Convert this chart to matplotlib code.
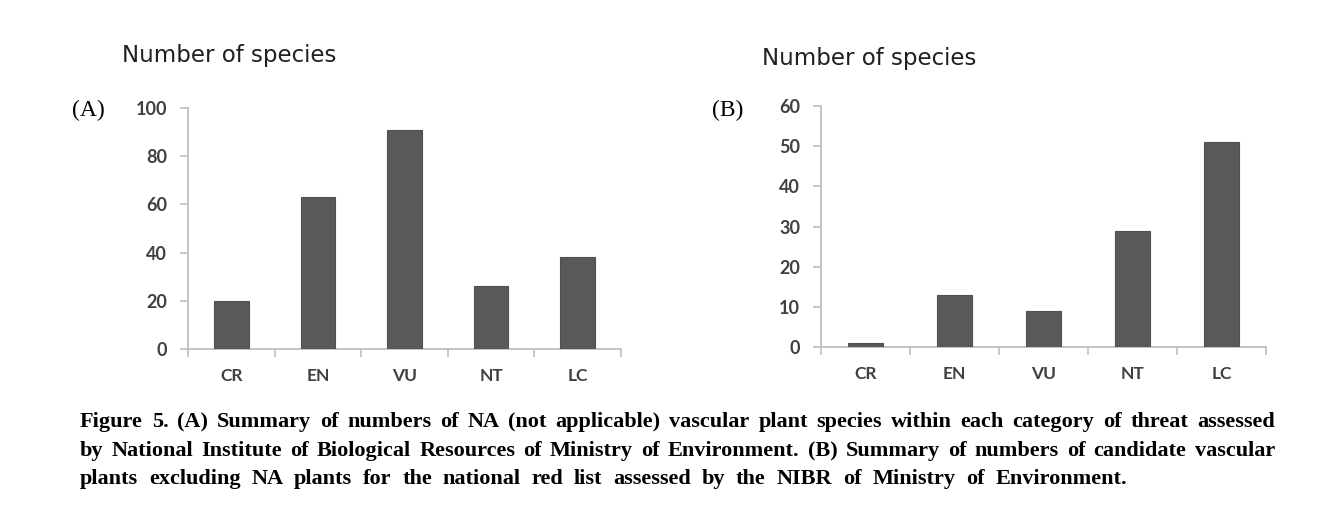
import matplotlib
matplotlib.use('Agg')
import matplotlib.pyplot as plt

# ---- data ----
categories = ['CR', 'EN', 'VU', 'NT', 'LC']
na_species = [20, 63, 91, 26, 38]          # (A) NA plants
candidate_species = [1, 13, 9, 29, 51]     # (B) candidate plants

caption_lines = [
    "Figure 5. (A) Summary of numbers of NA (not applicable) vascular plant species within each category of threat assessed",
    "by National Institute of Biological Resources of Ministry of Environment. (B) Summary of numbers of candidate vascular",
    "plants excluding NA plants for the national red list assessed by the NIBR of Ministry of Environment.",
]

W, H = 1327, 511
fig = plt.figure(figsize=(W / 100, H / 100), dpi=100)

AXIS_GRAY = '#bfbfbf'
TEXT_GRAY = '#404040'
BAR = '#595959'


def px_axes(x0, x1, y0, y1):
    # pixel box measured from the top-left corner of the image
    return fig.add_axes([x0 / W, 1 - y1 / H, (x1 - x0) / W, (y1 - y0) / H])


def panel(ax, values, ymax, ystep):
    x = range(len(categories))
    ax.bar(x, values, width=0.4, color=BAR, edgecolor='#505050', linewidth=0.8, zorder=3)
    ax.set_xlim(-0.5, len(categories) - 0.5)
    ax.set_ylim(0, ymax)
    ax.set_yticks(range(0, ymax + 1, ystep))
    ax.set_xticks(list(x))
    ax.set_xticklabels(categories)
    ax.set_xticks([i - 0.5 for i in range(len(categories) + 1)], minor=True)
    for s in ('top', 'right'):
        ax.spines[s].set_visible(False)
    for s in ('left', 'bottom'):
        ax.spines[s].set_color(AXIS_GRAY)
        ax.spines[s].set_linewidth(1.3)
    ax.tick_params(axis='y', length=6, width=1.2, color=AXIS_GRAY, pad=9,
                   labelsize=13, labelcolor=TEXT_GRAY)
    ax.tick_params(axis='x', which='major', length=0, pad=14,
                   labelsize=12.5, labelcolor=TEXT_GRAY)
    ax.tick_params(axis='x', which='minor', length=6, width=1.2, color=AXIS_GRAY)
    for lab in ax.get_xticklabels() + ax.get_yticklabels():
        lab.set_family('Lato')
        lab.set_fontweight('bold')
    ax.patch.set_alpha(0)


axA = px_axes(188, 621, 108, 349)
panel(axA, na_species, 100, 20)
axB = px_axes(821, 1266, 106, 347)
panel(axB, candidate_species, 60, 10)

# titles and panel letters
fig.text(122 / W, 1 - 55 / H, 'Number of species', fontsize=16.5, family='DejaVu Sans',
         color='#202020', va='center', ha='left')
fig.text(762 / W, 1 - 58 / H, 'Number of species', fontsize=16.5, family='DejaVu Sans',
         color='#202020', va='center', ha='left')
fig.text(72 / W, 1 - 110 / H, '(A)', fontsize=17, family='Liberation Serif', va='center')
fig.text(712 / W, 1 - 110 / H, '(B)', fontsize=17, family='Liberation Serif', va='center')

# justified bold caption
renderer = fig.canvas.get_renderer()
left_px = 80
right_px = [1275, 1275, 1127]
line_y = [422, 451, 479]
size = 16
min_gap = 5
words_all = [ln.split() for ln in caption_lines]


def word_widths(words, fs):
    out = []
    for w in words:
        t = fig.text(0, 0, w, fontsize=fs, family='Liberation Serif', fontweight='bold')
        out.append(t.get_window_extent(renderer).width)
        t.remove()
    return out


for words, r in zip(words_all, right_px):
    ws = word_widths(words, size)
    need = sum(ws) + min_gap * (len(words) - 1)
    if need > r - left_px:
        size = size * (r - left_px - min_gap * (len(words) - 1)) / sum(ws)

for words, r, y in zip(words_all, right_px, line_y):
    ws = word_widths(words, size)
    gap = (r - left_px - sum(ws)) / (len(words) - 1)
    x = left_px
    for w, wd in zip(words, ws):
        fig.text(x / W, 1 - y / H, w, fontsize=size, family='Liberation Serif',
                 fontweight='bold', va='center', ha='left', color='black')
        x += wd + gap

fig.savefig('out.png', dpi=100)
